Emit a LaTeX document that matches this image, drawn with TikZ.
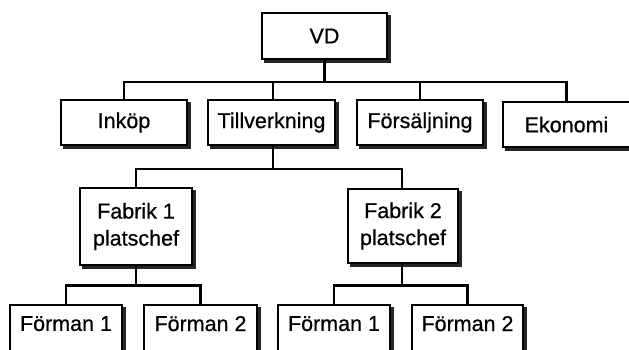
\documentclass[tikz,border=0pt]{standalone}
\usepackage{fontspec}
\setmainfont{Liberation Sans}
\newfontfamily\boxfont{Liberation Sans}[FakeBold=0.6]
\begin{document}
\begin{tikzpicture}[x=1pt,y=-1pt,
  orgbox/.style={draw=black, line width=1.6pt, fill=white, rectangle, inner sep=0pt,
    font=\boxfont\fontsize{21.5}{27}\selectfont, align=center,
    preaction={fill=black!85, draw=black!85, line width=1.6pt,
      transform canvas={xshift=3pt, yshift=-3pt}}},
  link/.style={draw=black, line width=2.2pt}]
\useasboundingbox (0,0) rectangle (629,349);
\clip (0,0) rectangle (629,349);

% top level
\node[orgbox, minimum width=125pt, minimum height=46pt] (vd) at (324.5,36) {VD};

% departments
\node[orgbox, minimum width=126pt, minimum height=45pt] (ink) at (124,122.5) {Inköp};
\node[orgbox, minimum width=127pt, minimum height=45pt] (til) at (271.5,122.5) {Tillverkning};
\node[orgbox, minimum width=126pt, minimum height=45pt] (for) at (420,122.5) {Försäljning};
\node[orgbox, minimum width=127pt, minimum height=45pt] (eko) at (566.5,124.5) {Ekonomi};

% plants
\node[orgbox, minimum width=112pt, minimum height=77pt] (fa1) at (136,226.5) {Fabrik 1\\platschef};
\node[orgbox, minimum width=110pt, minimum height=74pt] (fa2) at (403,226) {Fabrik 2\\platschef};

% foremen (boxes run past the lower edge)
\node[orgbox, minimum width=112pt, minimum height=47pt, text depth=10pt] (f11) at (66,328.5) {Förman 1};
\node[orgbox, minimum width=113pt, minimum height=47pt, text depth=10pt] (f12) at (200.5,328.5) {Förman 2};
\node[orgbox, minimum width=112pt, minimum height=47pt, text depth=10pt] (f21) at (334,328.5) {Förman 1};
\node[orgbox, minimum width=111pt, minimum height=47pt, text depth=10pt] (f22) at (467.5,328.5) {Förman 2};

% bus lines
\coordinate (bus1) at (0,82);
\coordinate (bus2) at (0,169);
\coordinate (bus3) at (0,285.5);

\draw[link] (vd.south) -- (vd.south |- bus1);
\draw[link] (ink.north) -- (ink.north |- bus1) -- (eko.north |- bus1) -- (eko.north);
\draw[link] ([xshift=1.5pt]til.north) -- ([xshift=1.5pt]til.north |- bus1);
\draw[link] (for.north) -- (for.north |- bus1);

\draw[link] ([xshift=1.5pt]til.south) -- ([xshift=1.5pt]til.south |- bus2);
\draw[link] (fa1.north) -- (fa1.north |- bus2) -- ([xshift=-1pt]fa2.north |- bus2) -- ([xshift=-1pt]fa2.north);

\draw[link] (fa1.south) -- (fa1.south |- bus3);
\draw[link] (f11.north) -- (f11.north |- bus3) -- (f12.north |- bus3) -- (f12.north);
\draw[link] ([xshift=-1pt]fa2.south) -- ([xshift=-1pt]fa2.south |- bus3);
\draw[link] (f21.north) -- (f21.north |- bus3) -- (f22.north |- bus3) -- (f22.north);
\end{tikzpicture}
\end{document}
